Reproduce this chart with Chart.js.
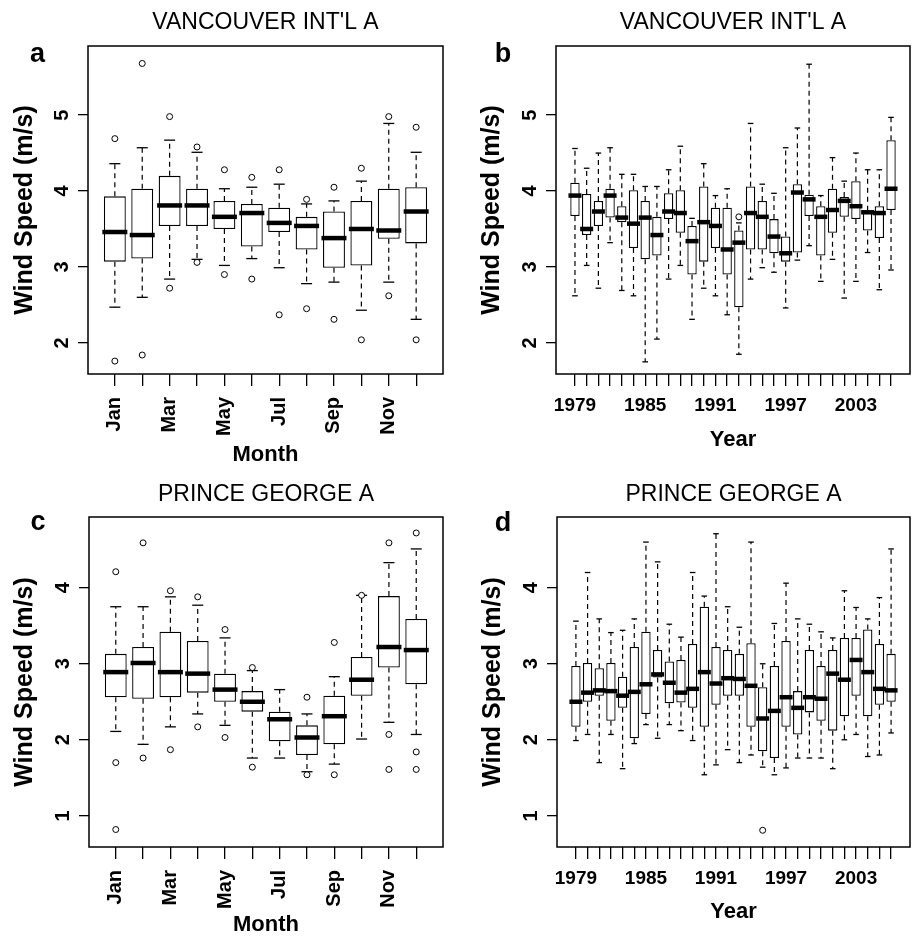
<!DOCTYPE html>
<html lang="en">
<head>
<meta charset="UTF-8">
<title>Wind Speed - Vancouver and Prince George</title>
<style>
    body {
        margin: 0;
        background: #fff;
        overflow: hidden;
    }
    #page {
        position: relative;
        width: 921px;
        height: 936px;
    }
    canvas {
        position: absolute;
    }
</style>
</head>
<body>
<div id="page">
    <canvas id="panelA"></canvas>
    <canvas id="panelB"></canvas>
    <canvas id="panelC"></canvas>
    <canvas id="panelD"></canvas>
</div>

<script src="https://cdn.jsdelivr.net/npm/chart.js"></script>
<script>
// Categories and tick labels
const months = ['Jan', 'Feb', 'Mar', 'Apr', 'May', 'Jun', 'Jul', 'Aug', 'Sep', 'Oct', 'Nov', 'Dec'];
const monthTickLabels = ['Jan', '', 'Mar', '', 'May', '', 'Jul', '', 'Sep', '', 'Nov', ''];
const years = [1979, 1980, 1981, 1982, 1983, 1984, 1985, 1986, 1987, 1988, 1989, 1990, 1991, 1992,
               1993, 1994, 1995, 1996, 1997, 1998, 1999, 2000, 2001, 2002, 2003, 2004, 2005, 2006];
const yearTickLabels = ['1979', '1985', '1991', '1997', '2003'];
const vanSpeedTicks = [2, 3, 4, 5];
const pgSpeedTicks = [1, 2, 3, 4];

// a: Vancouver, by month (whisker low, Q1, median, Q3, whisker high, outliers)
const vanMonthLo  = [2.47, 2.60, 2.84, 3.10, 3.02, 3.11, 2.99, 2.78, 2.80, 2.43, 2.80, 2.31];
const vanMonthQ1  = [3.07, 3.11, 3.54, 3.54, 3.50, 3.27, 3.46, 3.23, 2.99, 3.02, 3.37, 3.31];
const vanMonthMed = [3.46, 3.42, 3.81, 3.81, 3.66, 3.71, 3.58, 3.54, 3.38, 3.50, 3.48, 3.73];
const vanMonthQ3  = [3.93, 4.03, 4.20, 4.03, 3.87, 3.83, 3.78, 3.66, 3.73, 3.87, 4.03, 4.05];
const vanMonthHi  = [4.36, 4.57, 4.67, 4.51, 4.03, 4.05, 4.09, 3.83, 3.87, 4.13, 4.89, 4.51];
const vanMonthOutCat = ['Jan', 'Jan', 'Feb', 'Feb', 'Mar', 'Mar', 'Apr', 'Apr', 'May', 'May', 'Jun', 'Jun',
                        'Jul', 'Jul', 'Aug', 'Aug', 'Sep', 'Sep', 'Oct', 'Oct', 'Nov', 'Nov', 'Dec', 'Dec'];
const vanMonthOutVal = [4.69, 1.76, 5.68, 1.84, 4.98, 2.72, 4.58, 3.06, 4.28, 2.90, 4.18, 2.84,
                        4.28, 2.37, 3.89, 2.45, 4.05, 2.31, 4.30, 2.04, 4.98, 2.62, 4.84, 2.04];

// b: Vancouver, by year
const vanYearLo  = [2.62, 3.02, 2.72, 3.32, 2.69, 2.62, 1.75, 2.05, 2.84, 3.02, 2.31, 2.72, 2.62, 2.37,
                    1.85, 2.84, 2.99, 2.93, 2.46, 3.09, 3.28, 2.81, 3.10, 2.59, 2.81, 3.19, 2.70, 2.96];
const vanYearQ1  = [3.67, 3.42, 3.54, 3.65, 3.59, 3.25, 3.10, 3.15, 3.63, 3.45, 2.90, 3.07, 3.25, 2.90,
                    2.47, 3.23, 3.23, 3.18, 3.07, 3.19, 3.67, 3.15, 3.45, 3.66, 3.63, 3.48, 3.38, 3.75];
const vanYearMed = [3.94, 3.50, 3.73, 3.94, 3.65, 3.57, 3.65, 3.42, 3.73, 3.71, 3.34, 3.59, 3.54, 3.23,
                    3.32, 3.71, 3.66, 3.40, 3.18, 3.98, 3.89, 3.66, 3.75, 3.87, 3.80, 3.72, 3.71, 4.03];
const vanYearQ3  = [4.11, 3.96, 3.87, 4.03, 3.80, 4.01, 3.87, 3.66, 3.97, 4.01, 3.54, 4.06, 3.78, 3.78,
                    3.48, 4.06, 3.87, 3.63, 3.40, 4.09, 3.95, 3.80, 4.03, 3.92, 4.13, 3.74, 3.80, 4.67];
const vanYearHi  = [4.56, 4.30, 4.50, 4.57, 4.22, 4.22, 4.06, 4.06, 4.28, 4.59, 3.64, 4.36, 3.94, 4.03,
                    3.58, 4.89, 4.09, 3.97, 4.57, 4.83, 5.67, 3.94, 4.44, 4.13, 4.50, 4.28, 4.28, 4.97];
const vanYearOutCat = [1993];
const vanYearOutVal = [3.66];

// c: Prince George, by month
const pgMonthLo  = [2.11, 1.94, 2.17, 2.34, 2.19, 1.76, 1.76, 1.58, 1.68, 2.01, 2.23, 2.07];
const pgMonthQ1  = [2.56, 2.54, 2.56, 2.62, 2.50, 2.37, 1.98, 1.80, 1.94, 2.58, 2.95, 2.73];
const pgMonthMed = [2.89, 3.01, 2.89, 2.87, 2.66, 2.50, 2.27, 2.03, 2.31, 2.79, 3.22, 3.18];
const pgMonthQ3  = [3.13, 3.22, 3.42, 3.30, 2.87, 2.64, 2.37, 2.19, 2.58, 3.09, 3.89, 3.59];
const pgMonthHi  = [3.75, 3.75, 3.88, 3.77, 3.34, 2.91, 2.66, 2.34, 2.83, 3.90, 4.33, 4.51];
const pgMonthOutCat = ['Jan', 'Jan', 'Jan', 'Feb', 'Feb', 'Mar', 'Mar', 'Apr', 'Apr', 'May', 'May', 'Jun', 'Jun',
                       'Aug', 'Aug', 'Sep', 'Sep', 'Oct', 'Nov', 'Nov', 'Nov', 'Dec', 'Dec', 'Dec'];
const pgMonthOutVal = [4.21, 1.70, 0.82, 4.59, 1.76, 3.96, 1.87, 3.88, 2.17, 3.45, 2.03, 2.95, 1.64,
                       2.56, 1.54, 3.28, 1.54, 3.90, 4.59, 2.07, 1.61, 4.72, 1.84, 1.61];

// d: Prince George, by year
const pgYearLo  = [1.99, 2.07, 1.70, 2.07, 1.62, 1.95, 2.20, 2.02, 2.20, 2.12, 1.99, 1.54, 1.67, 1.87,
                   1.70, 1.80, 1.64, 1.54, 1.63, 1.76, 1.76, 1.76, 1.62, 2.00, 2.07, 1.78, 1.80, 2.09];
const pgYearQ1  = [2.17, 2.50, 2.58, 2.25, 2.42, 2.02, 2.34, 2.82, 2.48, 2.49, 2.42, 2.17, 2.46, 2.58,
                   2.58, 2.17, 1.85, 1.76, 2.17, 2.07, 2.36, 2.25, 2.12, 2.31, 2.58, 2.31, 2.46, 2.50];
const pgYearMed = [2.50, 2.62, 2.65, 2.64, 2.58, 2.63, 2.73, 2.86, 2.75, 2.62, 2.67, 2.89, 2.74, 2.81,
                   2.80, 2.71, 2.28, 2.38, 2.56, 2.42, 2.56, 2.54, 2.87, 2.79, 3.05, 2.89, 2.67, 2.65];
const pgYearQ3  = [2.97, 3.01, 2.94, 3.01, 2.83, 3.22, 3.42, 3.18, 3.03, 3.05, 3.26, 3.75, 3.22, 3.18,
                   3.13, 3.27, 2.69, 2.97, 3.30, 2.64, 3.18, 2.97, 3.18, 3.34, 3.34, 3.45, 3.26, 3.13];
const pgYearHi  = [3.56, 4.20, 3.59, 3.41, 3.44, 3.59, 4.60, 4.34, 3.52, 3.35, 4.20, 3.89, 4.71, 3.75,
                   3.48, 4.60, 3.00, 3.53, 4.06, 3.59, 3.52, 3.42, 3.34, 3.96, 3.74, 3.59, 3.87, 4.51];
const pgYearOutCat = [1995];
const pgYearOutVal = [0.81];

const FONT = "'Liberation Sans', Arial, Helvetica, sans-serif";
Chart.defaults.font.family = FONT;
Chart.defaults.color = '#000';

const TITLE_SIZE = 23;
const Y_TITLE_SIZE = 25;
const X_TITLE_SIZE = 22;

// Frame, rotated y tick labels and the panel letter
const panelDecor = {
    id: 'panelDecor',
    afterDatasetsDraw(chart, args, opts) {
        const ctx = chart.ctx;
        const a = chart.chartArea;
        const ys = chart.scales.y;
        ctx.save();
        ctx.strokeStyle = '#000';
        ctx.lineWidth = 1.5;
        ctx.strokeRect(a.left, a.top, a.right - a.left, a.bottom - a.top);

        ctx.fillStyle = '#000';
        ctx.font = 'bold 20px ' + FONT;
        ctx.textAlign = 'center';
        ctx.textBaseline = 'middle';
        ys.ticks.forEach(t => {
            ctx.save();
            ctx.translate(a.left - 26, ys.getPixelForValue(t.value));
            ctx.rotate(-Math.PI / 2);
            ctx.fillText(String(t.value), 0, 0);
            ctx.restore();
        });

        ctx.font = 'bold 27px ' + FONT;
        ctx.textBaseline = 'alphabetic';
        ctx.fillText(opts.letter, opts.x, opts.y);
        ctx.restore();
    }
};

function boxDatasets(p) {
    const xs = p.med.map((m, i) => i + 1);
    const whiskers = [];
    const caps = [];
    xs.forEach((x, i) => {
        whiskers.push({x: x, y: p.q3[i]}, {x: x, y: p.hi[i]}, {x: x, y: null});
        whiskers.push({x: x, y: p.q1[i]}, {x: x, y: p.lo[i]}, {x: x, y: null});
        caps.push({x: x, y: p.lo[i]}, {x: x, y: p.hi[i]});
    });
    const outliers = p.outCat.map((c, i) => ({x: p.cats.indexOf(c) + 1, y: p.outVal[i]}));

    return [
        {
            type: 'bar',
            data: xs.map((x, i) => ({x: x, y: [p.q1[i], p.q3[i]]})),
            backgroundColor: '#fff',
            borderColor: '#000',
            borderWidth: 1.3,
            borderSkipped: false,
            barPercentage: 0.8,
            categoryPercentage: 1,
            grouped: false,
            order: 3
        },
        {
            type: 'line',
            data: whiskers,
            borderColor: '#000',
            borderWidth: 1.2,
            borderDash: [5, 4],
            pointRadius: 0,
            spanGaps: false,
            tension: 0,
            fill: false,
            order: 4
        },
        {
            type: 'line',
            data: caps,
            showLine: false,
            pointStyle: 'line',
            pointRadius: p.capR,
            pointBorderColor: '#000',
            pointBorderWidth: 1.3,
            order: 2
        },
        {
            type: 'line',
            data: xs.map((x, i) => ({x: x, y: p.med[i]})),
            showLine: false,
            pointStyle: 'line',
            pointRadius: p.medR,
            pointBorderColor: '#000',
            pointBorderWidth: 4.5,
            order: 1
        },
        {
            type: 'line',
            data: outliers,
            showLine: false,
            pointStyle: 'circle',
            pointRadius: 3,
            pointBackgroundColor: '#fff',
            pointBorderColor: '#000',
            pointBorderWidth: 1,
            order: 0
        }
    ];
}

function makeChart(p) {
    const [cl, ct, cw, ch] = p.canvas;
    const [L, T, R, B] = p.area;
    const canvas = document.getElementById(p.id);
    canvas.style.left = cl + 'px';
    canvas.style.top = ct + 'px';
    canvas.width = cw;
    canvas.height = ch;

    // place the axis titles and chart area where the reference has them
    const padLeft = (p.yTitleX - cl) - Y_TITLE_SIZE / 2;
    const yWidth = (L - cl) - padLeft;
    const xHeight = (p.xTitleY - B) + X_TITLE_SIZE / 2;
    const padBottom = (ct + ch) - B - xHeight;
    const titleTop = (p.titleY - ct) - TITLE_SIZE * 0.6;
    const titleBottom = (T - ct) - titleTop - TITLE_SIZE * 1.2;
    const n = p.cats.length;
    const ext = 0.04 * n;

    return new Chart(canvas.getContext('2d'), {
        type: 'bar',
        data: {datasets: boxDatasets(p)},
        plugins: [panelDecor],
        options: {
            responsive: false,
            animation: false,
            events: [],
            layout: {padding: {left: padLeft, right: (cl + cw) - R, top: 0, bottom: padBottom}},
            plugins: {
                legend: {display: false},
                tooltip: {enabled: false},
                title: {
                    display: true,
                    text: p.title,
                    fullSize: false,
                    color: '#000',
                    font: {size: TITLE_SIZE, weight: 'normal', lineHeight: 1.2},
                    padding: {top: titleTop, bottom: titleBottom}
                },
                panelDecor: {letter: p.letter, x: p.letterXY[0] - cl, y: p.letterXY[1] - ct}
            },
            scales: {
                x: {
                    type: 'linear',
                    offset: false,
                    min: 0.5 - ext,
                    max: n + 0.5 + ext,
                    afterBuildTicks: s => { s.ticks = p.cats.map((c, i) => ({value: i + 1})); },
                    afterFit: s => { s.height = xHeight; },
                    ticks: {
                        autoSkip: false,
                        minRotation: p.rot,
                        maxRotation: p.rot,
                        padding: p.tickPad,
                        color: '#000',
                        font: {size: p.tickSize, weight: 'bold'},
                        callback: (v, i) => p.tickText(i)
                    },
                    grid: {drawOnChartArea: false, offset: false, color: '#000', lineWidth: 1.3, tickLength: 12},
                    border: {display: false},
                    title: {
                        display: true,
                        text: p.xTitle,
                        color: '#000',
                        font: {size: X_TITLE_SIZE, weight: 'bold', lineHeight: 1},
                        padding: 0
                    }
                },
                y: {
                    type: 'linear',
                    min: p.yMin,
                    max: p.yMax,
                    afterBuildTicks: s => { s.ticks = p.yTicks.map(v => ({value: v})); },
                    afterFit: s => { s.width = yWidth; },
                    ticks: {display: false},
                    grid: {drawOnChartArea: false, color: '#000', lineWidth: 1.3, tickLength: 10},
                    border: {display: false},
                    title: {
                        display: true,
                        text: 'Wind Speed (m/s)',
                        color: '#000',
                        font: {size: Y_TITLE_SIZE, weight: 'bold', lineHeight: 1},
                        padding: 0
                    }
                }
            }
        }
    });
}

const monthText = i => monthTickLabels[i];
const yearText = i => yearTickLabels.includes(String(years[i])) ? String(years[i]) : '';

makeChart({
    id: 'panelA', letter: 'a', title: "VANCOUVER INT'L A", xTitle: 'Month',
    cats: months, tickText: monthText, yTicks: vanSpeedTicks, yMin: 1.59, yMax: 5.91,
    lo: vanMonthLo, q1: vanMonthQ1, med: vanMonthMed, q3: vanMonthQ3, hi: vanMonthHi,
    outCat: vanMonthOutCat, outVal: vanMonthOutVal,
    canvas: [0, 0, 460, 468], area: [88, 46, 453, 374],
    titleY: 23, xTitleY: 455, yTitleX: 25, letterXY: [37.5, 62],
    rot: 90, tickPad: 11, tickSize: 20, capR: 5.5, medR: 12.5
});

makeChart({
    id: 'panelB', letter: 'b', title: "VANCOUVER INT'L A", xTitle: 'Year',
    cats: years, tickText: yearText, yTicks: vanSpeedTicks, yMin: 1.59, yMax: 5.91,
    lo: vanYearLo, q1: vanYearQ1, med: vanYearMed, q3: vanYearQ3, hi: vanYearHi,
    outCat: vanYearOutCat, outVal: vanYearOutVal,
    canvas: [460, 0, 461, 460], area: [556, 46, 920, 374],
    titleY: 23, xTitleY: 440, yTitleX: 492.5, letterXY: [503, 62],
    rot: 0, tickPad: 8, tickSize: 19, capR: 2.8, medR: 6.5
});

makeChart({
    id: 'panelC', letter: 'c', title: 'PRINCE GEORGE A', xTitle: 'Month',
    cats: months, tickText: monthText, yTicks: pgSpeedTicks, yMin: 0.59, yMax: 4.93,
    lo: pgMonthLo, q1: pgMonthQ1, med: pgMonthMed, q3: pgMonthQ3, hi: pgMonthHi,
    outCat: pgMonthOutCat, outVal: pgMonthOutVal,
    canvas: [0, 468, 460, 468], area: [89, 517, 454, 847],
    titleY: 495, xTitleY: 925, yTitleX: 25, letterXY: [38, 530],
    rot: 90, tickPad: 11, tickSize: 20, capR: 5.5, medR: 12.5
});

makeChart({
    id: 'panelD', letter: 'd', title: 'PRINCE GEORGE A', xTitle: 'Year',
    cats: years, tickText: yearText, yTicks: pgSpeedTicks, yMin: 0.59, yMax: 4.93,
    lo: pgYearLo, q1: pgYearQ1, med: pgYearMed, q3: pgYearQ3, hi: pgYearHi,
    outCat: pgYearOutCat, outVal: pgYearOutVal,
    canvas: [460, 460, 461, 476], area: [557, 517, 920, 847],
    titleY: 495, xTitleY: 912, yTitleX: 493.5, letterXY: [503, 531],
    rot: 0, tickPad: 8, tickSize: 19, capR: 2.8, medR: 6.5
});
</script>
</body>
</html>
